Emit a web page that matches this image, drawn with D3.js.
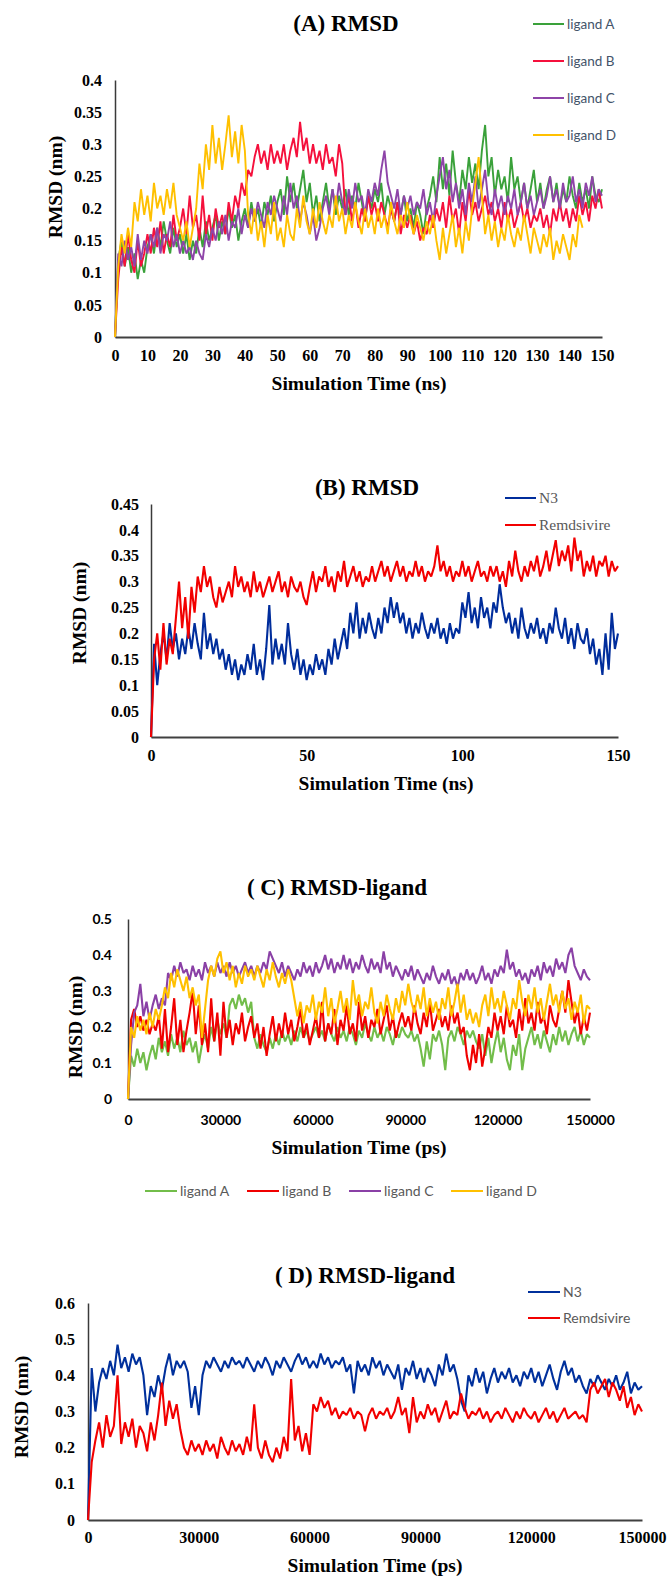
<!DOCTYPE html>
<html>
<head>
<meta charset="utf-8">
<script src="https://cdn.jsdelivr.net/npm/d3@7"></script>
<style>body{margin:0;background:#fff}</style>
</head>
<body>
<div id="chart"></div>
<script>
// ---- panel A : RMSD, 4 ligands, sampled every 1 ns ----
const ligandNames = ["ligand A", "ligand B", "ligand C", "ligand D"];
const refNames = ["N3", "Remdsivire"];

const ligA_ns = [0,
  0.12,0.15,0.11,0.14,0.10,0.13,0.09,0.12,0.10,0.14,
  0.16,0.13,0.17,0.14,0.18,0.15,0.13,0.17,0.14,0.16,
  0.13,0.16,0.12,0.15,0.13,0.17,0.14,0.18,0.15,0.17,
  0.19,0.15,0.18,0.16,0.20,0.17,0.19,0.15,0.18,0.20,
  0.17,0.21,0.18,0.20,0.17,0.21,0.19,0.22,0.18,0.21,
  0.23,0.19,0.25,0.21,0.24,0.20,0.23,0.26,0.21,0.24,
  0.19,0.22,0.18,0.21,0.24,0.20,0.23,0.19,0.22,0.20,
  0.23,0.19,0.22,0.20,0.24,0.21,0.18,0.22,0.20,0.23,
  0.21,0.24,0.19,0.22,0.20,0.18,0.21,0.19,0.22,0.18,
  0.20,0.17,0.21,0.19,0.16,0.20,0.22,0.25,0.21,0.28,
  0.23,0.27,0.22,0.29,0.24,0.21,0.26,0.23,0.28,0.24,
  0.27,0.23,0.29,0.33,0.25,0.28,0.22,0.26,0.23,0.25,
  0.21,0.28,0.23,0.25,0.21,0.24,0.20,0.23,0.26,0.21,
  0.24,0.20,0.23,0.25,0.21,0.24,0.20,0.23,0.21,0.25,
  0.22,0.20,0.24,0.21,0.23,0.20,0.25,0.22,0.21,0.23];
const ligB_ns = [0,
  0.09,0.14,0.11,0.16,0.12,0.10,0.15,0.11,0.13,0.16,
  0.13,0.17,0.14,0.18,0.13,0.16,0.14,0.19,0.15,0.17,
  0.20,0.16,0.22,0.17,0.19,0.15,0.22,0.16,0.19,0.15,
  0.20,0.17,0.19,0.16,0.21,0.18,0.22,0.20,0.24,0.22,
  0.26,0.25,0.28,0.30,0.27,0.29,0.26,0.30,0.27,0.29,
  0.27,0.30,0.26,0.29,0.31,0.28,0.335,0.29,0.31,0.27,
  0.30,0.27,0.29,0.26,0.30,0.27,0.28,0.25,0.30,0.27,
  0.19,0.22,0.18,0.21,0.17,0.20,0.18,0.22,0.19,0.21,
  0.18,0.21,0.19,0.17,0.20,0.18,0.21,0.16,0.19,0.17,
  0.19,0.16,0.18,0.15,0.17,0.16,0.19,0.17,0.20,0.18,
  0.21,0.17,0.22,0.18,0.20,0.16,0.21,0.18,0.23,0.19,
  0.21,0.18,0.20,0.22,0.19,0.21,0.18,0.20,0.17,0.21,
  0.18,0.20,0.17,0.19,0.21,0.18,0.20,0.17,0.19,0.18,
  0.20,0.17,0.19,0.16,0.20,0.18,0.21,0.18,0.20,0.17,
  0.20,0.18,0.22,0.19,0.21,0.18,0.22,0.20,0.23,0.20];
const ligC_ns = [0,
  0.13,0.11,0.15,0.12,0.14,0.11,0.16,0.12,0.15,0.13,
  0.16,0.14,0.17,0.13,0.16,0.15,0.18,0.14,0.16,0.13,
  0.15,0.13,0.14,0.12,0.15,0.13,0.12,0.16,0.14,0.17,
  0.15,0.18,0.16,0.19,0.15,0.18,0.17,0.20,0.16,0.19,
  0.17,0.20,0.18,0.21,0.19,0.17,0.21,0.19,0.22,0.20,
  0.18,0.22,0.19,0.24,0.20,0.22,0.18,0.21,0.19,0.16,
  0.19,0.15,0.17,0.20,0.22,0.19,0.23,0.20,0.24,0.21,
  0.19,0.23,0.20,0.24,0.21,0.22,0.19,0.23,0.21,0.24,
  0.22,0.26,0.29,0.24,0.22,0.20,0.23,0.19,0.22,0.20,
  0.22,0.19,0.21,0.20,0.23,0.19,0.21,0.18,0.22,0.25,
  0.28,0.23,0.26,0.21,0.24,0.20,0.23,0.19,0.24,0.21,
  0.25,0.20,0.23,0.26,0.21,0.19,0.23,0.20,0.22,0.19,
  0.22,0.20,0.23,0.19,0.21,0.24,0.20,0.22,0.19,0.21,
  0.23,0.20,0.22,0.25,0.21,0.23,0.20,0.24,0.21,0.22,
  0.25,0.21,0.23,0.20,0.24,0.22,0.25,0.21,0.23,0.22];
const ligD_ns = [0,
  0.11,0.16,0.13,0.17,0.14,0.21,0.18,0.23,0.19,0.22,
  0.18,0.24,0.20,0.22,0.19,0.23,0.20,0.24,0.19,0.17,
  0.15,0.18,0.14,0.17,0.20,0.27,0.23,0.30,0.26,0.33,
  0.27,0.31,0.26,0.30,0.345,0.28,0.32,0.27,0.33,0.29,
  0.19,0.16,0.20,0.15,0.18,0.14,0.19,0.16,0.21,0.15,
  0.17,0.14,0.19,0.16,0.15,0.20,0.17,0.22,0.18,0.16,
  0.20,0.17,0.21,0.18,0.16,0.19,0.17,0.22,0.18,0.20,
  0.16,0.19,0.17,0.21,0.18,0.16,0.20,0.17,0.19,0.16,
  0.20,0.17,0.19,0.16,0.21,0.18,0.16,0.19,0.17,0.21,
  0.18,0.16,0.19,0.17,0.15,0.18,0.16,0.19,0.15,0.12,
  0.17,0.13,0.16,0.19,0.14,0.17,0.13,0.18,0.15,0.20,
  0.24,0.28,0.22,0.16,0.19,0.15,0.18,0.14,0.17,0.15,
  0.19,0.16,0.14,0.17,0.15,0.19,0.16,0.13,0.17,0.15,
  0.13,0.16,0.14,0.17,0.12,0.15,0.13,0.16,0.14,0.12,
  0.16,0.14,0.19,0.17];

// ---- panel B : RMSD, N3 and Remdsivire, every 1 ns ----
const n3_ns = [0,
  0.18,0.10,0.16,0.20,0.15,0.22,0.17,0.20,0.15,0.19,
  0.16,0.21,0.17,0.22,0.18,0.15,0.24,0.17,0.20,0.16,
  0.19,0.15,0.17,0.13,0.16,0.12,0.15,0.11,0.14,0.12,
  0.16,0.13,0.18,0.12,0.15,0.11,0.17,0.255,0.14,0.19,
  0.15,0.18,0.14,0.22,0.16,0.13,0.17,0.12,0.15,0.11,
  0.14,0.12,0.16,0.13,0.15,0.12,0.17,0.14,0.19,0.15,
  0.18,0.21,0.17,0.24,0.20,0.26,0.19,0.23,0.20,0.24,
  0.21,0.19,0.23,0.20,0.25,0.22,0.27,0.23,0.26,0.22,
  0.24,0.20,0.23,0.19,0.22,0.20,0.24,0.21,0.19,0.22,
  0.20,0.23,0.19,0.21,0.18,0.22,0.19,0.21,0.20,0.26,
  0.23,0.28,0.22,0.25,0.21,0.27,0.23,0.25,0.21,0.26,
  0.24,0.295,0.25,0.22,0.24,0.20,0.23,0.19,0.25,0.21,
  0.19,0.22,0.20,0.23,0.19,0.21,0.18,0.22,0.20,0.25,
  0.21,0.19,0.23,0.18,0.21,0.17,0.22,0.19,0.18,0.21,
  0.16,0.19,0.14,0.17,0.12,0.20,0.13,0.24,0.17,0.20];
const remd_ns = [0,
  0.15,0.20,0.13,0.22,0.14,0.19,0.16,0.23,0.30,0.21,
  0.27,0.19,0.29,0.24,0.31,0.28,0.33,0.29,0.31,0.27,
  0.25,0.29,0.26,0.28,0.30,0.27,0.33,0.29,0.31,0.28,
  0.30,0.27,0.32,0.28,0.30,0.27,0.29,0.31,0.28,0.30,
  0.32,0.28,0.30,0.27,0.31,0.29,0.28,0.30,0.27,0.255,
  0.29,0.32,0.28,0.31,0.30,0.33,0.29,0.31,0.28,0.32,
  0.30,0.34,0.29,0.31,0.33,0.30,0.32,0.29,0.31,0.30,
  0.33,0.30,0.32,0.34,0.31,0.33,0.30,0.32,0.34,0.31,
  0.33,0.30,0.32,0.31,0.34,0.31,0.33,0.30,0.32,0.31,
  0.33,0.37,0.32,0.34,0.31,0.33,0.30,0.32,0.31,0.34,
  0.31,0.33,0.30,0.32,0.34,0.31,0.32,0.30,0.33,0.31,
  0.33,0.30,0.32,0.29,0.34,0.31,0.36,0.32,0.30,0.33,
  0.31,0.34,0.32,0.35,0.31,0.33,0.36,0.32,0.35,0.38,
  0.33,0.36,0.34,0.37,0.32,0.385,0.34,0.36,0.31,0.34,
  0.32,0.35,0.31,0.34,0.33,0.35,0.31,0.34,0.32,0.33];

// ---- panel C : RMSD-ligand, 4 ligands, every 1000 ps ----
const ligA_ps = [0,
  0.12,0.09,0.14,0.10,0.13,0.08,0.12,0.15,0.11,0.17,
  0.13,0.16,0.12,0.18,0.14,0.17,0.13,0.19,0.15,0.17,
  0.13,0.16,0.10,0.15,0.18,0.14,0.20,0.16,0.22,0.18,
  0.21,0.17,0.26,0.28,0.25,0.29,0.26,0.28,0.24,0.27,
  0.17,0.14,0.18,0.15,0.13,0.17,0.14,0.18,0.15,0.19,
  0.16,0.18,0.15,0.19,0.16,0.20,0.17,0.19,0.16,0.18,
  0.20,0.17,0.19,0.16,0.21,0.18,0.16,0.20,0.17,0.19,
  0.16,0.20,0.18,0.15,0.19,0.17,0.21,0.18,0.16,0.20,
  0.17,0.19,0.16,0.20,0.18,0.15,0.19,0.17,0.20,0.18,
  0.17,0.19,0.16,0.18,0.14,0.09,0.16,0.11,0.18,0.16,
  0.19,0.15,0.08,0.17,0.19,0.16,0.20,0.18,0.15,0.19,
  0.17,0.19,0.16,0.14,0.18,0.12,0.17,0.10,0.15,0.19,
  0.13,0.17,0.11,0.08,0.15,0.12,0.18,0.08,0.14,0.17,
  0.20,0.15,0.18,0.14,0.19,0.16,0.13,0.18,0.15,0.20,
  0.16,0.19,0.15,0.18,0.20,0.16,0.19,0.15,0.18,0.17];
const ligB_ps = [0,
  0.22,0.25,0.20,0.23,0.19,0.22,0.18,0.21,0.19,0.23,
  0.14,0.25,0.13,0.20,0.28,0.15,0.22,0.13,0.19,0.24,
  0.30,0.18,0.26,0.15,0.21,0.13,0.28,0.16,0.24,0.12,
  0.27,0.17,0.22,0.15,0.21,0.18,0.24,0.16,0.20,0.23,
  0.17,0.21,0.14,0.20,0.12,0.18,0.23,0.16,0.21,0.17,
  0.24,0.18,0.22,0.16,0.20,0.25,0.17,0.21,0.15,0.19,
  0.23,0.17,0.27,0.16,0.21,0.18,0.25,0.15,0.22,0.19,
  0.26,0.18,0.21,0.16,0.27,0.19,0.23,0.17,0.22,0.20,
  0.25,0.18,0.22,0.26,0.19,0.23,0.17,0.21,0.24,0.20,
  0.23,0.19,0.26,0.21,0.18,0.24,0.20,0.27,0.19,0.22,
  0.25,0.20,0.23,0.19,0.26,0.21,0.24,0.18,0.20,0.12,
  0.08,0.15,0.10,0.18,0.09,0.14,0.20,0.17,0.24,0.19,
  0.23,0.18,0.26,0.20,0.22,0.17,0.25,0.19,0.28,0.21,
  0.24,0.19,0.27,0.21,0.23,0.18,0.26,0.22,0.20,0.25,
  0.30,0.24,0.33,0.27,0.21,0.25,0.18,0.23,0.19,0.24];
const ligC_ps = [0,
  0.15,0.24,0.26,0.32,0.23,0.27,0.22,0.26,0.29,0.25,
  0.28,0.26,0.35,0.33,0.37,0.34,0.38,0.35,0.36,0.33,
  0.37,0.34,0.36,0.33,0.38,0.35,0.37,0.34,0.38,0.35,
  0.37,0.34,0.38,0.35,0.37,0.34,0.36,0.38,0.35,0.37,
  0.34,0.37,0.35,0.38,0.36,0.41,0.39,0.37,0.35,0.38,
  0.34,0.37,0.35,0.33,0.36,0.34,0.38,0.35,0.37,0.34,
  0.38,0.35,0.37,0.40,0.36,0.39,0.35,0.38,0.36,0.40,
  0.36,0.39,0.35,0.38,0.36,0.40,0.37,0.35,0.39,0.36,
  0.38,0.35,0.41,0.36,0.38,0.34,0.37,0.35,0.33,0.36,
  0.34,0.37,0.33,0.36,0.34,0.32,0.35,0.33,0.37,0.34,
  0.32,0.35,0.33,0.36,0.32,0.34,0.31,0.35,0.33,0.36,
  0.33,0.35,0.32,0.34,0.37,0.33,0.35,0.32,0.36,0.34,
  0.37,0.35,0.415,0.36,0.38,0.34,0.36,0.33,0.35,0.32,
  0.36,0.34,0.37,0.33,0.38,0.35,0.37,0.34,0.39,0.36,
  0.38,0.35,0.40,0.42,0.37,0.35,0.33,0.36,0.34,0.33];
const ligD_ps = [0,
  0.20,0.17,0.23,0.19,0.22,0.18,0.24,0.20,0.25,0.22,
  0.26,0.31,0.28,0.35,0.31,0.36,0.33,0.30,0.34,0.28,
  0.31,0.26,0.29,0.17,0.25,0.33,0.37,0.34,0.39,0.41,
  0.35,0.38,0.33,0.37,0.31,0.35,0.32,0.37,0.34,0.36,
  0.33,0.37,0.34,0.31,0.36,0.33,0.38,0.34,0.31,0.35,
  0.32,0.36,0.33,0.28,0.23,0.27,0.21,0.26,0.24,0.29,
  0.22,0.27,0.24,0.31,0.23,0.28,0.21,0.25,0.30,0.24,
  0.28,0.22,0.33,0.26,0.29,0.23,0.27,0.25,0.31,0.24,
  0.21,0.27,0.23,0.29,0.25,0.22,0.28,0.24,0.30,0.26,
  0.32,0.27,0.24,0.29,0.25,0.31,0.23,0.28,0.24,0.27,
  0.22,0.28,0.25,0.31,0.23,0.27,0.32,0.24,0.29,0.22,
  0.25,0.21,0.24,0.20,0.26,0.29,0.23,0.31,0.25,0.28,
  0.24,0.30,0.26,0.22,0.28,0.25,0.33,0.27,0.23,0.29,
  0.25,0.31,0.24,0.28,0.22,0.27,0.32,0.26,0.29,0.24,
  0.30,0.25,0.28,0.22,0.27,0.24,0.29,0.21,0.26,0.25];

// ---- panel D : RMSD-ligand, N3 and Remdsivire, every 1000 ps ----
const n3_ps = [0,
  0.42,0.30,0.38,0.42,0.39,0.44,0.40,0.485,0.42,0.45,
  0.41,0.46,0.43,0.45,0.40,0.29,0.37,0.34,0.40,0.36,
  0.42,0.46,0.40,0.44,0.42,0.44,0.41,0.31,0.37,0.29,
  0.40,0.44,0.42,0.45,0.43,0.41,0.44,0.42,0.45,0.43,
  0.44,0.42,0.45,0.43,0.41,0.44,0.42,0.45,0.43,0.40,
  0.44,0.42,0.45,0.43,0.41,0.44,0.46,0.43,0.45,0.42,
  0.44,0.42,0.46,0.43,0.45,0.42,0.44,0.43,0.45,0.41,
  0.43,0.35,0.44,0.41,0.43,0.40,0.45,0.42,0.44,0.40,
  0.43,0.41,0.39,0.43,0.36,0.42,0.40,0.44,0.39,0.42,
  0.38,0.42,0.40,0.37,0.43,0.40,0.46,0.41,0.43,0.39,
  0.33,0.30,0.40,0.37,0.42,0.38,0.41,0.35,0.39,0.42,
  0.38,0.41,0.39,0.42,0.38,0.40,0.37,0.41,0.39,0.42,
  0.38,0.41,0.37,0.40,0.43,0.39,0.36,0.41,0.44,0.40,
  0.42,0.38,0.40,0.37,0.35,0.39,0.37,0.40,0.38,0.36,
  0.39,0.37,0.40,0.36,0.38,0.41,0.35,0.38,0.36,0.37];
const remd_ps = [0,
  0.16,0.22,0.27,0.20,0.29,0.23,0.26,0.40,0.21,0.27,
  0.23,0.28,0.20,0.26,0.24,0.19,0.27,0.22,0.29,0.38,
  0.26,0.33,0.28,0.32,0.25,0.20,0.18,0.22,0.19,0.21,
  0.18,0.22,0.19,0.21,0.17,0.23,0.20,0.18,0.22,0.19,
  0.21,0.18,0.23,0.19,0.32,0.20,0.17,0.22,0.18,0.16,
  0.20,0.17,0.23,0.19,0.39,0.22,0.26,0.19,0.24,0.18,
  0.32,0.30,0.34,0.31,0.33,0.29,0.31,0.28,0.30,0.29,
  0.31,0.28,0.30,0.29,0.245,0.29,0.31,0.28,0.30,0.29,
  0.31,0.28,0.30,0.34,0.29,0.31,0.24,0.34,0.27,0.30,
  0.28,0.32,0.29,0.31,0.27,0.30,0.33,0.28,0.30,0.29,
  0.35,0.31,0.28,0.30,0.29,0.31,0.28,0.30,0.27,0.29,
  0.30,0.28,0.31,0.29,0.27,0.30,0.28,0.31,0.29,0.28,
  0.30,0.27,0.29,0.31,0.28,0.30,0.27,0.29,0.31,0.28,
  0.29,0.30,0.28,0.29,0.27,0.36,0.38,0.35,0.37,0.39,
  0.34,0.38,0.36,0.33,0.37,0.31,0.34,0.29,0.32,0.30];

// tick labels
const yTicksA = [0, 0.05, 0.1, 0.15, 0.2, 0.25, 0.3, 0.35, 0.4];
const xTicksA = [0, 10, 20, 30, 40, 50, 60, 70, 80, 90, 100, 110, 120, 130, 140, 150];
const yTicksB = [0, 0.05, 0.1, 0.15, 0.2, 0.25, 0.3, 0.35, 0.4, 0.45];
const xTicksB = [0, 50, 100, 150];
const yTicksC = [0, 0.1, 0.2, 0.3, 0.4, 0.5];
const xTicksC = [0, 30000, 60000, 90000, 120000, 150000];
const yTicksD = [0, 0.1, 0.2, 0.3, 0.4, 0.5, 0.6];
const xTicksD = [0, 30000, 60000, 90000, 120000, 150000];

const serif = '"Liberation Serif", "Times New Roman", "DejaVu Serif", serif';
const sans = 'Lato, "Open Sans", sans-serif';

var svg = d3.select('#chart')
    .append('svg')
    .attr('width', 668)
    .attr('height', 1576);

function drawPanel(p) {
    var x = d3.scaleLinear().domain([0, p.xMax]).range([p.left, p.right]);
    var y = d3.scaleLinear().domain([0, p.yMax]).range([p.bottom, p.top]);
    var g = svg.append('g');

    // Y axis
    var yAxis = d3.axisLeft(y).tickValues(p.yTicks).tickSize(0).tickPadding(p.yPad)
        .tickFormat(d => String(d));
    var ya = g.append('g')
        .attr('transform', `translate(${p.left},0)`)
        .attr('font-family', null)
        .call(yAxis);
    ya.select('.domain').attr('stroke', '#3a3a3a').attr('stroke-width', 1.5);
    ya.selectAll('text').style('font-family', p.tickFont).style('font-weight', 'bold')
        .style('font-size', p.tickSize + 'px').attr('fill', '#000');

    // X axis
    var xAxis = d3.axisBottom(x).tickValues(p.xTicks).tickSize(0).tickPadding(p.xPad)
        .tickFormat(d => String(d));
    var xa = g.append('g')
        .attr('transform', `translate(0,${p.bottom})`)
        .call(xAxis);
    xa.select('.domain').attr('stroke', '#404040').attr('stroke-width', 2.2);
    xa.selectAll('text').style('font-family', p.tickFont).style('font-weight', 'bold')
        .style('font-size', p.tickSize + 'px').attr('fill', '#000');

    // series lines, drawn over the axes like the original
    var line = d3.line().x((d, i) => x(i * p.step)).y(d => y(d));
    p.series.forEach(s => {
        g.append('path')
            .datum(s.values)
            .attr('d', line)
            .attr('fill', 'none')
            .attr('stroke', s.color)
            .attr('stroke-width', p.lineWidth)
            .attr('stroke-linejoin', 'bevel');
    });

    // titles
    g.append('text').attr('x', p.titleX).attr('y', p.titleY)
        .attr('text-anchor', 'middle').style('font-family', serif).style('font-weight', 'bold')
        .style('font-size', '23px').text(p.title);
    g.append('text').attr('x', p.xTitleX).attr('y', p.xTitleY)
        .attr('text-anchor', 'middle').style('font-family', serif).style('font-weight', 'bold')
        .style('font-size', '19.5px').text(p.xTitle);
    g.append('text')
        .attr('transform', `translate(${p.yTitleX},${p.yTitleY}) rotate(-90)`)
        .attr('text-anchor', 'middle').attr('dy', '0.35em')
        .style('font-family', serif).style('font-weight', 'bold')
        .style('font-size', '19.5px').text('RMSD (nm)');

    // legend
    p.series.forEach((s, i) => {
        var lx = p.legend.x[i] !== undefined ? p.legend.x[i] : p.legend.x[0];
        var ly = p.legend.y[i] !== undefined ? p.legend.y[i] : p.legend.y[0];
        g.append('line')
            .attr('x1', lx).attr('x2', lx + p.legend.len)
            .attr('y1', ly).attr('y2', ly)
            .attr('stroke', s.color).attr('stroke-width', 2);
        g.append('text')
            .attr('x', lx + p.legend.len + 3).attr('y', ly).attr('dy', '0.35em')
            .style('font-family', p.legend.font).style('font-size', p.legend.size + 'px')
            .attr('fill', p.legend.color).text(s.name);
    });
}

drawPanel({
    title: '(A) RMSD', titleX: 346, titleY: 31,
    xTitle: 'Simulation Time (ns)', xTitleX: 359, xTitleY: 390,
    yTitleX: 55, yTitleY: 187,
    left: 115, right: 602, top: 80, bottom: 337,
    xMax: 150, yMax: 0.4, step: 1, lineWidth: 1.9,
    xTicks: xTicksA, yTicks: yTicksA, xPad: 13, yPad: 13,
    tickFont: serif, tickSize: 16,
    series: [
        {name: ligandNames[0], values: ligA_ns, color: '#3aa13a'},
        {name: ligandNames[1], values: ligB_ns, color: '#f5103c'},
        {name: ligandNames[2], values: ligC_ns, color: '#8e44a8'},
        {name: ligandNames[3], values: ligD_ns, color: '#ffc000'}
    ],
    legend: {x: [533], y: [24, 61, 98, 135], len: 31, font: sans, size: 13.5, color: '#44546a'}
});

drawPanel({
    title: '(B) RMSD', titleX: 367, titleY: 495,
    xTitle: 'Simulation Time (ns)', xTitleX: 386, xTitleY: 790,
    yTitleX: 79, yTitleY: 613,
    left: 151, right: 618, top: 504, bottom: 737,
    xMax: 150, yMax: 0.45, step: 1, lineWidth: 2.1,
    xTicks: xTicksB, yTicks: yTicksB, xPad: 13, yPad: 12,
    tickFont: serif, tickSize: 16,
    series: [
        {name: refNames[0], values: n3_ns, color: '#002d9c'},
        {name: refNames[1], values: remd_ns, color: '#f20000'}
    ],
    legend: {x: [505], y: [498, 525], len: 31, font: serif, size: 15.5, color: '#595959'}
});

drawPanel({
    title: '( C) RMSD-ligand', titleX: 337, titleY: 895,
    xTitle: 'Simulation Time (ps)', xTitleX: 359, xTitleY: 1154,
    yTitleX: 75, yTitleY: 1027,
    left: 128, right: 590, top: 919, bottom: 1099,
    xMax: 150000, yMax: 0.5, step: 1000, lineWidth: 2.1,
    xTicks: xTicksC, yTicks: yTicksC, xPad: 16, yPad: 16,
    tickFont: sans, tickSize: 14,
    series: [
        {name: ligandNames[0], values: ligA_ps, color: '#72bd4a'},
        {name: ligandNames[1], values: ligB_ps, color: '#f00000'},
        {name: ligandNames[2], values: ligC_ps, color: '#8a40a6'},
        {name: ligandNames[3], values: ligD_ps, color: '#ffc000'}
    ],
    legend: {x: [145, 247, 349, 451], y: [1191], len: 32, font: sans, size: 14, color: '#595959'}
});

drawPanel({
    title: '( D) RMSD-ligand', titleX: 365, titleY: 1283,
    xTitle: 'Simulation Time (ps)', xTitleX: 375, xTitleY: 1572,
    yTitleX: 21, yTitleY: 1407,
    left: 88, right: 642, top: 1303, bottom: 1520,
    xMax: 150000, yMax: 0.6, step: 1000, lineWidth: 2.1,
    xTicks: xTicksD, yTicks: yTicksD, xPad: 12, yPad: 13,
    tickFont: serif, tickSize: 16,
    series: [
        {name: refNames[0], values: n3_ps, color: '#00309c'},
        {name: refNames[1], values: remd_ps, color: '#f20000'}
    ],
    legend: {x: [528], y: [1292, 1318], len: 32, font: sans, size: 14, color: '#595959'}
});
</script>
</body>
</html>
